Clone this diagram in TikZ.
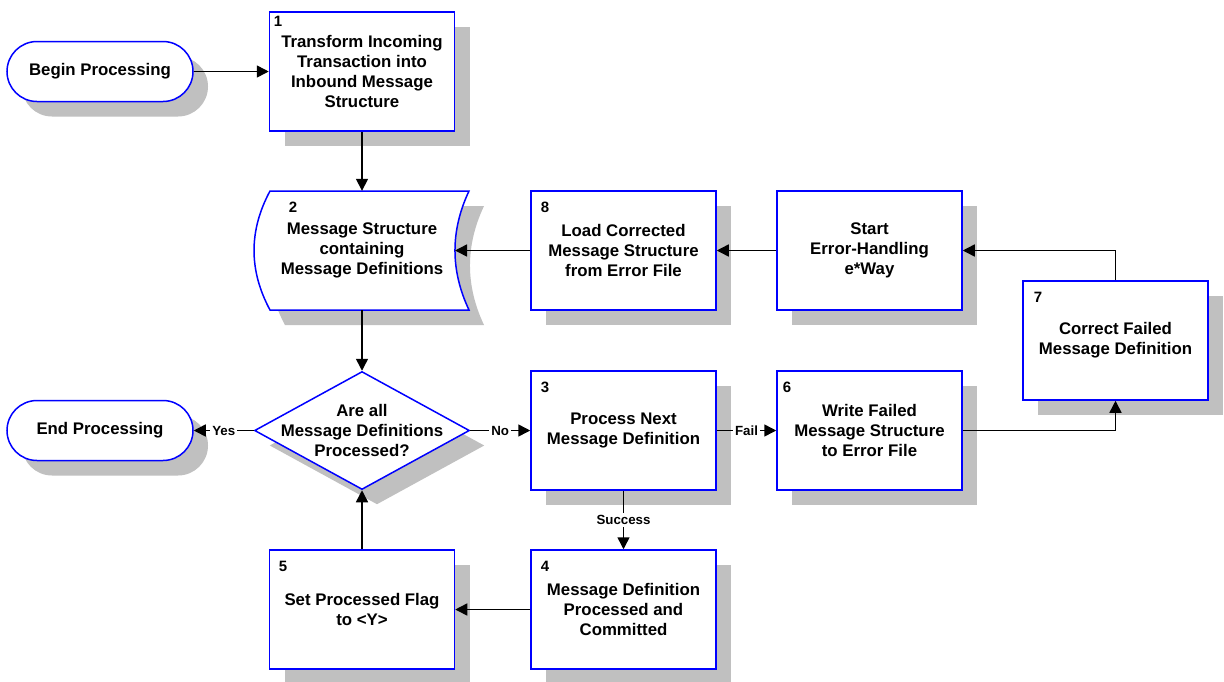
\documentclass[tikz,border=0pt]{standalone}
\usepackage{fontspec}
\setmainfont{Liberation Sans}
\usetikzlibrary{arrows.meta,shapes.geometric,shadows}
\definecolor{bord}{RGB}{0,0,255}
\definecolor{shadc}{RGB}{192,192,192}
\newcommand\mainf{\fontsize{16.8}{20}\selectfont\bfseries}
\newcommand\labf{\fontsize{13.3}{15}\selectfont\bfseries}
\newcommand\numf{\fontsize{15}{18}\selectfont\bfseries}
\begin{document}
\begin{tikzpicture}[x=1pt,y=-1pt,
  shad/.style={drop shadow={shadow xshift=15pt,shadow yshift=-15pt,fill=shadc,opacity=1}},
  proc/.style={draw=bord,line width=1.5pt,fill=white,minimum width=185pt,minimum height=119pt,inner sep=0pt,align=center,font=\mainf,shad},
  term/.style={draw=bord,line width=1.5pt,fill=white,minimum width=186pt,minimum height=60pt,rounded corners=30pt,inner sep=0pt,font=\mainf,shad},
  decis/.style={draw=bord,line width=1.5pt,fill=white,shape=diamond,minimum width=215pt,minimum height=118pt,inner sep=0pt,shad},
  txt/.style={align=center,font=\mainf,inner sep=0pt},
  num/.style={font=\numf,inner sep=0pt},
  arr/.style={draw=black,line width=1.5pt,-{Triangle[length=12pt,width=12pt]}},
  lab/.style={fill=white,font=\labf,inner sep=2pt}]
\fill[white] (0,0) rectangle (1224,681);
\useasboundingbox (0,0) rectangle (1224,681);

% terminators
\node[term] (begin) at (100,71.5) {Begin Processing};
\node[term] (end) at (100,430.5) {End Processing};

% box 2 (stored data shape)
\fill[shadc,shift={(15,15)}] (270,191) -- (469,191) .. controls (450.3,230.7) and (450.3,270.3) .. (469,310) -- (270,310) .. controls (248.7,270.3) and (248.7,230.7) .. (270,191) -- cycle;
\draw[draw=bord,line width=1.5pt,fill=white] (270,191) -- (469,191) .. controls (450.3,230.7) and (450.3,270.3) .. (469,310) -- (270,310) .. controls (248.7,270.3) and (248.7,230.7) .. (270,191) -- cycle;
\node[txt,minimum width=215pt,minimum height=119pt] (box2) at (362,250.5) {Message Structure\\containing\\Message Definitions};
\coordinate (b2e) at (455,250.5);
\node[num] (n2) at (293,207) {2};

% process boxes
\node[proc] (box1) at (362,71.5) {Transform Incoming\\Transaction into\\Inbound Message\\Structure};
\node[num] (n1) at (278,21) {1};
\node[proc] (box8) at (623.5,250.5) {Load Corrected\\Message Structure\\from Error File};
\node[num] (n8) at (545,207) {8};
\node[proc] (start) at (869.5,250.5) {Start\\Error-Handling\\e*Way};
\node[proc] (box7) at (1115.5,340.5) {Correct Failed\\Message Definition};
\node[num] (n7) at (1038,297) {7};
\node[proc] (box3) at (623.5,430.5) {Process Next\\Message Definition};
\node[num] (n3) at (545,387) {3};
\node[proc] (box6) at (869.5,430.5) {Write Failed\\Message Structure\\to Error File};
\node[num] (n6) at (787,387) {6};
\node[proc] (box5) at (362,609.5) {Set Processed Flag\\to <Y>};
\node[num] (n5) at (283,566) {5};
\node[proc] (box4) at (623.5,609.5) {Message Definition\\Processed and\\Committed};
\node[num] (n4) at (545,566) {4};

% decision
\node[decis] (dec) at (362,430.5) {};
\node[txt] (dect) at (dec) {Are all\\Message Definitions\\Processed?};

% connectors
\draw[arr] (begin) -- (box1);
\draw[arr] (box1) -- (box2);
\draw[arr] (box8) -- (b2e);
\draw[arr] (start) -- (box8);
\draw[arr] (box7.north) |- (start.east);
\draw[arr] (box6.east) -| (box7.south);
\draw[arr] (box2) -- (dec);
\draw[arr] (dec) -- node[lab] (lyes) {Yes} (end);
\draw[arr] (dec) -- node[lab] (lno) {No} (box3);
\draw[arr] (box3) -- node[lab] (lfail) {Fail} (box6);
\draw[arr] (box3) -- node[lab] (lsucc) {Success} (box4);
\draw[arr] (box4) -- (box5);
\draw[arr] (box5) -- (dec);
\end{tikzpicture}
\end{document}
